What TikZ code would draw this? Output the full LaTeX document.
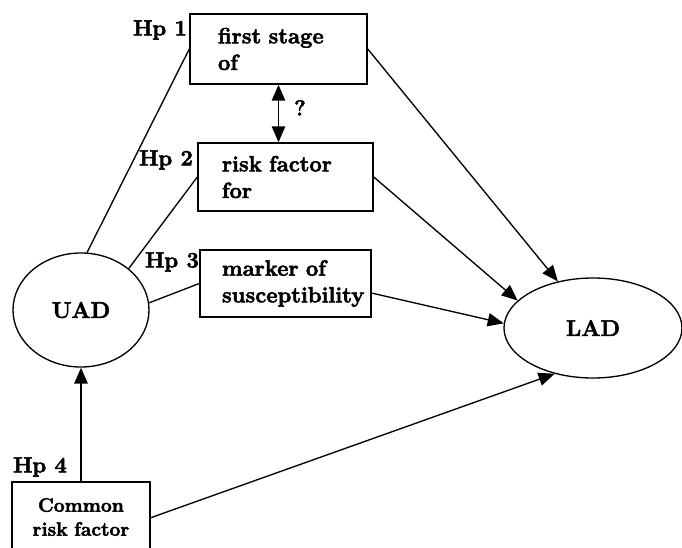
\documentclass[tikz,border=0pt]{standalone}
\usepackage{fontspec}
\newfontfamily\figfont{Latin Modern Roman}[BoldFeatures={FakeBold=2.5}]
\usetikzlibrary{arrows.meta,calc,shapes.geometric}
\begin{document}
\begin{tikzpicture}[x=0.75pt,y=-0.75pt,
  box/.style={draw,line width=1.1pt,rectangle,inner sep=0pt,align=left,font=\figfont\bfseries\fontsize{16.5}{20}\selectfont},
  ell/.style={draw,line width=1pt,ellipse,inner sep=0pt,font=\figfont\bfseries\fontsize{17}{20}\selectfont},
  hp/.style={font=\figfont\bfseries\fontsize{16.5}{19}\selectfont,inner sep=0pt},
  link/.style={line width=1pt},
  arr/.style={line width=1pt,-{Triangle[length=12pt,width=10pt]}},
  darr/.style={line width=1.4pt,{Triangle[length=12pt,width=10pt]}-{Triangle[length=12pt,width=10pt]}},
]
\useasboundingbox (0,0) rectangle (682,547);
\clip (0,0) rectangle (682,547);
\node[box,minimum width=132.75pt,minimum height=52.5pt,text width=90.75pt] (b1) at (278.5,49) {first stage\\of};
\node[box,minimum width=131.25pt,minimum height=51pt,text width=95.25pt] (b2) at (285.5,177) {risk factor\\for};
\node[box,minimum width=128.25pt,minimum height=50.25pt,text width=95.25pt] (b3) at (285.5,283.5) {marker of\\susceptibility};
\node[ell,minimum width=102pt,minimum height=85.5pt] (uad) at (81,310) {UAD};
\node[ell,minimum width=133.5pt,minimum height=75pt] (lad) at (593,328) {LAD};
\node[box,align=center,font=\figfont\bfseries\fontsize{14.5}{18}\selectfont,minimum width=103.5pt,minimum height=52.5pt,text width=90pt] (cr) at (81,517) {Common\\risk factor};
\node[hp] (hp1) at (160,30) {Hp 1};
\node[hp] (hp2) at (166,160) {Hp 2};
\node[hp] (hp3) at (172,262) {Hp 3};
\node[hp] (hp4) at (40,467) {Hp 4};
\node[hp] (q) at (300,108) {?};
\draw[link] (uad.84) -- (b1.west);
\draw[link] (uad.41) -- (b2.west);
\draw[link] (uad.6) -- (b3.west);
\draw[arr,line width=1.4pt] (cr.north) -- (uad.south);
\draw[darr] (b1.south) -- (b1.south |- b2.north);
\draw[arr] (b1.east) -- (lad.127);
\draw[arr] (b2.east) -- (lad.160);
\draw[arr] ($(b3.north east)!0.64!(b3.south east)$) -- (lad.177);
\draw[arr] ($(cr.north east)!0.51!(cr.south east)$) -- (lad.230);
\end{tikzpicture}
\end{document}
